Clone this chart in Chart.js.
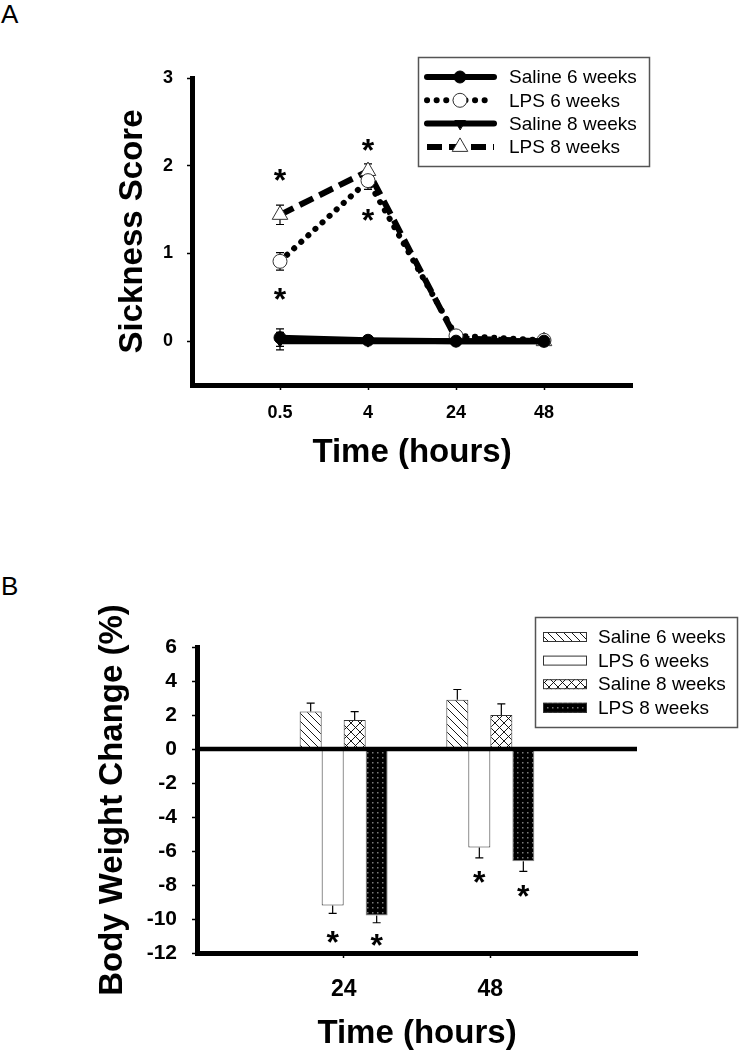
<!DOCTYPE html>
<html>
<head>
<meta charset="utf-8">
<script src="https://cdn.jsdelivr.net/npm/chart.js@4.4.0/dist/chart.umd.min.js"></script>
<style>
body{margin:0;background:#fff;width:739px;height:1050px;position:relative;overflow:hidden;font-family:"Liberation Sans",Arial,sans-serif}
canvas{position:absolute;left:0}
#chartA{top:0}
#chartB{top:525px}
.panel{position:absolute;left:1px;font-size:26px;line-height:1;color:#000}
</style>
</head>
<body>
<div class="panel" style="top:1px">A</div>
<div class="panel" style="top:573px">B</div>
<canvas id="chartA" width="739" height="525"></canvas>
<canvas id="chartB" width="739" height="525"></canvas>
<script>
// panel A - sickness score
const timesA = ['0.5', '4', '24', '48'];
const sickTicks = [0, 1, 2, 3];
const saline6 = [0.04, 0.01, 0.0, 0.0];
const saline6Err = [0.1, 0.02, 0, 0];
const lps6 = [0.91, 1.83, 0.06, 0.01];
const lps6Err = [0.1, 0.1, 0.04, 0.02];
const saline8 = [0.0, 0.0, 0.0, 0.0];
const saline8Err = [0.1, 0, 0, 0];
const lps8 = [1.44, 1.94, 0.03, 0.0];
const lps8Err = [0.11, 0.08, 0.03, 0.02];
// asterisks: [time index, score]
const starsA = [[0, 1.92], [0, 0.57], [1, 2.26], [1, 1.47]];

// panel B - body weight change
const timesB = ['24', '48'];
const weightTicks = [-12, -10, -8, -6, -4, -2, 0, 2, 4, 6];
const bwSaline6 = [2.2, 2.9];
const bwSaline6Err = [0.5, 0.6];
const bwLps6 = [-9.2, -5.8];
const bwLps6Err = [0.47, 0.6];
const bwSaline8 = [1.7, 2.0];
const bwSaline8Err = [0.5, 0.65];
const bwLps8 = [-9.8, -6.6];
const bwLps8Err = [0.42, 0.6];
// asterisks: [dataset, time index, value]
const starsB = [[1, 0, -10.9], [3, 0, -11.1], [1, 1, -7.4], [3, 1, -8.2]];

const FONT = '"Liberation Sans", Arial, sans-serif';
Chart.defaults.font.family = FONT;
Chart.defaults.color = '#000';

function toXY(values){
    return values.map((v, i) => ({x: i + 1, y: v}));
}

function makePattern(kind){
    const s = kind === 'dots' ? 5 : (kind === 'cross' ? 9 : 8);
    const c = document.createElement('canvas');
    c.width = s; c.height = s;
    const g = c.getContext('2d');
    g.fillStyle = kind === 'dots' ? '#000' : '#fff';
    g.fillRect(0, 0, s, s);
    if (kind === 'dots'){
        g.fillStyle = '#7a7a7a';
        g.fillRect(2, 2, 1.5, 1.5);
    } else {
        g.strokeStyle = '#000';
        g.lineWidth = 0.9;
        g.beginPath();
        for (const k of [-s, 0, s]){
            g.moveTo(k, 0); g.lineTo(k + s, s);
            if (kind === 'cross'){ g.moveTo(k + s, 0); g.lineTo(k, s); }
        }
        g.stroke();
    }
    return g.createPattern(c, 'repeat');
}

function drawMarker(ctx, ds, x, y){
    const r = ds.pointRadius;
    ctx.beginPath();
    if (ds.pointStyle === 'circle'){
        ctx.arc(x, y, r, 0, Math.PI * 2);
    } else {
        const rot = (ds.pointRotation || 0) * Math.PI / 180;
        for (let k = 0; k < 3; k++){
            const a = rot + k * 2 * Math.PI / 3;
            const px = x + Math.sin(a) * r, py = y - Math.cos(a) * r;
            if (k) ctx.lineTo(px, py); else ctx.moveTo(px, py);
        }
        ctx.closePath();
    }
    ctx.fillStyle = ds.pointBackgroundColor;
    ctx.fill();
    ctx.lineWidth = ds.pointBorderWidth;
    ctx.strokeStyle = ds.pointBorderColor;
    ctx.stroke();
}

function drawErrors(chart, outwardOnly){
    const ctx = chart.ctx, ys = chart.scales.y;
    ctx.save();
    ctx.strokeStyle = '#000';
    ctx.lineWidth = 1.2;
    ctx.setLineDash([]);
    chart.data.datasets.forEach((ds, i) => {
        const meta = chart.getDatasetMeta(i);
        meta.data.forEach((el, j) => {
            const v = ds.data[j].y, e = ds.errors[j];
            if (!e) return;
            let lo = v - e, hi = v + e;
            if (outwardOnly){ if (v >= 0) lo = v; else hi = v; }
            const x = el.x, y1 = ys.getPixelForValue(lo), y2 = ys.getPixelForValue(hi);
            ctx.beginPath();
            ctx.moveTo(x, y1); ctx.lineTo(x, y2);
            if (!outwardOnly || v < 0){ ctx.moveTo(x - 4, y1); ctx.lineTo(x + 4, y1); }
            if (!outwardOnly || v >= 0){ ctx.moveTo(x - 4, y2); ctx.lineTo(x + 4, y2); }
            ctx.stroke();
        });
    });
    ctx.restore();
}

function drawStar(ctx, x, y){
    const size = 32;
    ctx.font = 'bold ' + size + 'px ' + FONT;
    ctx.fillStyle = '#000';
    ctx.textAlign = 'center';
    ctx.textBaseline = 'alphabetic';
    ctx.fillText('*', x, y + size * 0.575);
}

// ---------- chart A ----------
const pluginsA = [{
    id: 'errorsA',
    beforeDatasetsDraw(chart){ drawErrors(chart, false); }
}, {
    id: 'starsA',
    afterDatasetsDraw(chart){
        const ctx = chart.ctx;
        ctx.save();
        starsA.forEach(s => drawStar(ctx, chart.scales.x.getPixelForValue(s[0] + 1), chart.scales.y.getPixelForValue(s[1])));
        ctx.restore();
    }
}, {
    id: 'legendA',
    afterDraw(chart){
        const ctx = chart.ctx;
        ctx.save();
        ctx.strokeStyle = '#555';
        ctx.lineWidth = 1.5;
        ctx.strokeRect(418.5, 57.5, 231, 109);
        chart.data.datasets.forEach((ds, i) => {
            const y = 77 + i * 23.3;
            ctx.beginPath();
            ctx.setLineDash(ds.borderDash || []);
            ctx.lineCap = ds.borderCapStyle || 'butt';
            ctx.lineWidth = ds.borderWidth;
            ctx.strokeStyle = ds.borderColor;
            ctx.moveTo(427, y); ctx.lineTo(494, y);
            ctx.stroke();
            ctx.setLineDash([]);
            drawMarker(ctx, ds, 460, y);
            ctx.fillStyle = '#000';
            ctx.font = '19px ' + FONT;
            ctx.textAlign = 'left';
            ctx.textBaseline = 'middle';
            ctx.fillText(ds.label, 509, y + 1);
        });
        ctx.restore();
    }
}];

const axisGrid = {display: true, drawOnChartArea: false, tickLength: 5, tickColor: '#000', tickWidth: 1.5};
const axisBorder = {display: true, color: '#000', width: 5};

new Chart(document.getElementById('chartA'), {
    type: 'line',
    data: {
        datasets: [{
            label: 'Saline 6 weeks', data: toXY(saline6), errors: saline6Err,
            borderColor: '#000', borderWidth: 6, borderCapStyle: 'round',
            pointStyle: 'circle', pointRadius: 6, pointBackgroundColor: '#000', pointBorderColor: '#000', pointBorderWidth: 1
        }, {
            label: 'LPS 6 weeks', data: toXY(lps6), errors: lps6Err,
            borderColor: '#000', borderWidth: 6, borderDash: [0.1, 9.5], borderCapStyle: 'round',
            pointStyle: 'circle', pointRadius: 7, pointBackgroundColor: '#fff', pointBorderColor: '#333', pointBorderWidth: 1
        }, {
            label: 'Saline 8 weeks', data: toXY(saline8), errors: saline8Err,
            borderColor: '#000', borderWidth: 6, borderCapStyle: 'round',
            pointStyle: 'triangle', pointRotation: 180, pointRadius: 6, pointBackgroundColor: '#000', pointBorderColor: '#000', pointBorderWidth: 1
        }, {
            label: 'LPS 8 weeks', data: toXY(lps8), errors: lps8Err,
            borderColor: '#000', borderWidth: 6, borderDash: [15, 7], borderCapStyle: 'butt',
            pointStyle: 'triangle', pointRadius: 9, pointBackgroundColor: '#fff', pointBorderColor: '#333', pointBorderWidth: 1
        }]
    },
    options: {
        responsive: false, animation: false, events: [],
        clip: false,
        layout: {padding: {left: 100, right: 107, top: 78, bottom: 0}},
        plugins: {legend: {display: false}, tooltip: {enabled: false}},
        elements: {line: {tension: 0, fill: false}},
        scales: {
            x: {
                type: 'linear', min: 0, max: 5,
                afterBuildTicks: s => { s.ticks = timesA.map((t, i) => ({value: i + 1})); },
                afterFit: s => { s.height = 140; },
                ticks: {callback: v => timesA[v - 1] || '', font: {size: 18, weight: 'bold'}, color: '#000', padding: 12, maxRotation: 0, autoSkip: false},
                grid: axisGrid, border: axisBorder,
                title: {display: true, text: 'Time (hours)', color: '#000', font: {size: 33, weight: 'bold', lineHeight: 1}, padding: {top: 0, bottom: 56}}
            },
            y: {
                min: -0.5, max: 3,
                afterBuildTicks: s => { s.ticks = sickTicks.map(v => ({value: v})); },
                afterFit: s => { s.width = 92; },
                ticks: {font: {size: 18, weight: 'bold'}, color: '#000', padding: 14},
                grid: axisGrid, border: axisBorder,
                title: {display: true, text: 'Sickness Score', color: '#000', font: {size: 33, weight: 'bold', lineHeight: 1}, padding: {top: 16, bottom: 0}}
            }
        }
    },
    plugins: pluginsA
});

// ---------- chart B ----------
const pluginsB = [{
    id: 'errorsB',
    beforeDatasetsDraw(chart){ drawErrors(chart, true); }
}, {
    id: 'zeroLine',
    afterDatasetsDraw(chart){
        const ctx = chart.ctx, a = chart.chartArea, y0 = chart.scales.y.getPixelForValue(0);
        ctx.save();
        ctx.strokeStyle = '#000';
        ctx.lineWidth = 4.5;
        ctx.beginPath();
        ctx.moveTo(a.left, y0); ctx.lineTo(a.right, y0);
        ctx.stroke();
        starsB.forEach(s => {
            const el = chart.getDatasetMeta(s[0]).data[s[1]];
            drawStar(ctx, el.x, chart.scales.y.getPixelForValue(s[2]));
        });
        ctx.restore();
    }
}, {
    id: 'legendB',
    afterDraw(chart){
        const ctx = chart.ctx;
        ctx.save();
        ctx.strokeStyle = '#555';
        ctx.lineWidth = 1.5;
        ctx.strokeRect(535.5, 92.5, 202, 110);
        chart.data.datasets.forEach((ds, i) => {
            const y = 112 + i * 23.6;
            ctx.fillStyle = ds.backgroundColor;
            ctx.fillRect(543, y - 5, 44, 10);
            ctx.lineWidth = 1;
            ctx.strokeStyle = '#333';
            ctx.strokeRect(543.5, y - 4.5, 43, 9);
            ctx.fillStyle = '#000';
            ctx.font = '19px ' + FONT;
            ctx.textAlign = 'left';
            ctx.textBaseline = 'middle';
            ctx.fillText(ds.label, 598, y + 1);
        });
        ctx.restore();
    }
}];

const barCommon = {borderWidth: 1, categoryPercentage: 0.6, barPercentage: 1.0};

new Chart(document.getElementById('chartB'), {
    type: 'bar',
    data: {
        datasets: [
            Object.assign({label: 'Saline 6 weeks', data: toXY(bwSaline6), errors: bwSaline6Err, backgroundColor: makePattern('back'), borderColor: '#333'}, barCommon),
            Object.assign({label: 'LPS 6 weeks', data: toXY(bwLps6), errors: bwLps6Err, backgroundColor: '#fff', borderColor: '#333'}, barCommon),
            Object.assign({label: 'Saline 8 weeks', data: toXY(bwSaline8), errors: bwSaline8Err, backgroundColor: makePattern('cross'), borderColor: '#333'}, barCommon),
            Object.assign({label: 'LPS 8 weeks', data: toXY(bwLps8), errors: bwLps8Err, backgroundColor: makePattern('dots'), borderColor: '#888'}, barCommon)
        ]
    },
    options: {
        responsive: false, animation: false, events: [],
        layout: {padding: {left: 80, right: 102, top: 122, bottom: 0}},
        plugins: {legend: {display: false}, tooltip: {enabled: false}},
        scales: {
            x: {
                type: 'linear', min: 0, max: 3, offset: false,
                afterBuildTicks: s => { s.ticks = timesB.map((t, i) => ({value: i + 1})); },
                afterFit: s => { s.height = 97; },
                ticks: {callback: v => timesB[v - 1] || '', font: {size: 23, weight: 'bold'}, color: '#000', padding: 18, maxRotation: 0, autoSkip: false},
                grid: Object.assign({offset: false}, axisGrid), border: axisBorder,
                title: {display: true, text: 'Time (hours)', color: '#000', font: {size: 33, weight: 'bold', lineHeight: 1}, padding: {top: 0, bottom: 0}}
            },
            y: {
                min: -12, max: 6,
                afterBuildTicks: s => { s.ticks = weightTicks.map(v => ({value: v})); },
                afterFit: s => { s.width = 117; },
                ticks: {font: {size: 21, weight: 'bold'}, color: '#000', padding: 15},
                grid: axisGrid, border: axisBorder,
                title: {display: true, text: 'Body Weight Change (%)', color: '#000', font: {size: 33, weight: 'bold', lineHeight: 1}, padding: {top: 16, bottom: 0}}
            }
        }
    },
    plugins: pluginsB
});
</script>
</body>
</html>
